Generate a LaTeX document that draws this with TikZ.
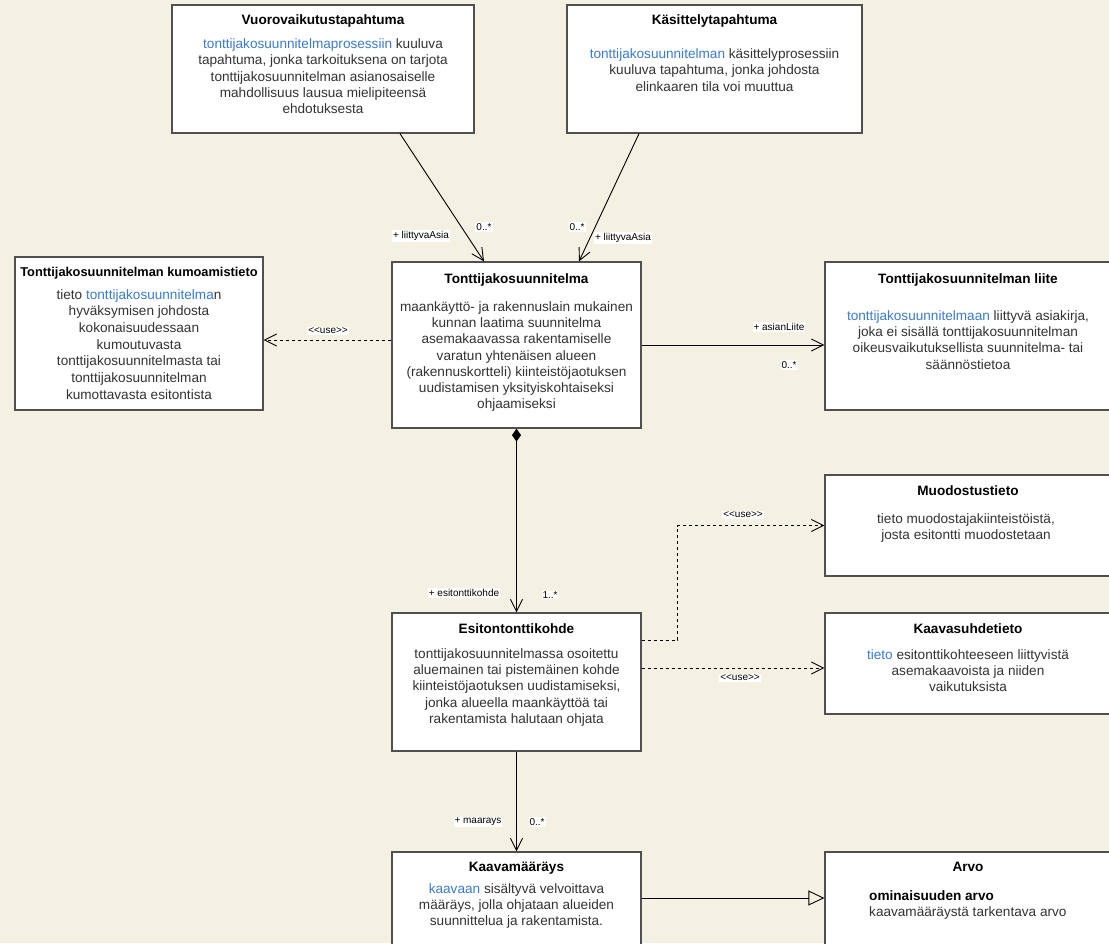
\documentclass[tikz,border=0pt]{standalone}
\usepackage{fontspec}
\setmainfont{Liberation Sans}[Ligatures=TeXOff]
\usetikzlibrary{arrows.meta,calc}
\definecolor{bg}{HTML}{F4F0E2}
\definecolor{bord}{HTML}{505050}
\definecolor{txt}{HTML}{333333}
\definecolor{lnk}{HTML}{3B7BCD}
\newcommand\lk[1]{\textcolor{lnk}{#1}}
\tikzset{
  box/.style={draw=bord, line width=1.3pt, fill=white, inner sep=0pt},
  ttl/.style={font=\bfseries\fontsize{13.6}{16.3}\selectfont, text=black, inner sep=0pt, anchor=center, text height=9.8pt, text depth=2.9pt},
  body/.style={font=\fontsize{13.6}{16.3}\selectfont, text=txt, align=center, inner sep=0pt, anchor=north, execute at begin node=\strut},
  lbl/.style={font=\fontsize{10}{12}\selectfont, fill=white, inner sep=1pt, text=black},
  assoc/.style={draw=black, line width=0.9pt, -{Straight Barb[length=12pt,width=12pt]}},
  usedep/.style={assoc, dashed},
  compo/.style={draw=black, line width=0.9pt, {Diamond[length=13pt,width=9pt]}-{Straight Barb[length=12pt,width=12pt]}},
  gen/.style={draw=black, line width=0.9pt, -{Triangle[open,length=16pt,width=15pt]}},
}
\begin{document}
\begin{tikzpicture}[x=1pt,y=-1pt]
\useasboundingbox (0,0) rectangle (1109,943);
\clip (0,0) rectangle (1109,943);
\fill[bg] (0,0) rectangle (1109,943);

% boxes
\node[box, minimum width=302pt, minimum height=128pt] (vv) at (323,69) {};
\node[box, minimum width=295pt, minimum height=128pt] (kt) at (714.5,69) {};
\node[box, minimum width=248pt, minimum height=153pt] (ku) at (139,333.5) {};
\node[box, minimum width=249pt, minimum height=166pt] (tj) at (516.5,345) {};
\node[box, minimum width=287pt, minimum height=148pt] (li) at (968.5,336) {};
\node[box, minimum width=287pt, minimum height=101pt] (mu) at (968.5,525.5) {};
\node[box, minimum width=249pt, minimum height=138pt] (es) at (516.5,682) {};
\node[box, minimum width=287pt, minimum height=101pt] (ks) at (968.5,663.5) {};
\node[box, minimum width=249pt, minimum height=108pt] (km) at (516.5,906) {};
\node[box, minimum width=287pt, minimum height=108pt] (ar) at (968.5,906) {};

% texts
\node[ttl] (vvt) at (323,21) {Vuorovaikutustapahtuma};
\node[body] (vvb) at (323,38.6) {\lk{tonttijakosuunnitelmaprosessiin} kuuluva\\ tapahtuma, jonka tarkoituksena on tarjota\\ tonttijakosuunnitelman asianosaiselle\\ mahdollisuus lausua mielipiteensä\\ ehdotuksesta};

\node[ttl] (ktt) at (714.5,21) {Käsittelytapahtuma};
\node[body] (ktb) at (714.5,48.6) {\lk{tonttijakosuunnitelman} käsittelyprosessiin\\ kuuluva tapahtuma, jonka johdosta\\ elinkaaren tila voi muuttua};

\node[ttl, font=\bfseries\fontsize{12.8}{15}\selectfont] (kut) at (139,273) {Tonttijakosuunnitelman kumoamistieto};
\node[body, font=\fontsize{13.6}{16.7}\selectfont] (kub) at (139,289.1) {tieto \lk{tonttijakosuunnitelma}n\\ hyväksymisen johdosta\\ kokonaisuudessaan\\ kumoutuvasta\\ tonttijakosuunnitelmasta tai\\ tonttijakosuunnitelman\\ kumottavasta esitontista};

\node[ttl] (tjt) at (516.5,280) {Tonttijakosuunnitelma};
\node[body] (tjb) at (516.5,301.1) {maankäyttö- ja rakennuslain mukainen\\ kunnan laatima suunnitelma\\ asemakaavassa rakentamiselle\\ varatun yhtenäisen alueen\\ (rakennuskortteli) kiinteistöjaotuksen\\ uudistamisen yksityiskohtaiseksi\\ ohjaamiseksi};

\node[ttl] (lit) at (968,280) {Tonttijakosuunnitelman liite};
\node[body] (lib) at (968,310.1) {\lk{tonttijakosuunnitelmaan} liittyvä asiakirja,\\ joka ei sisällä tonttijakosuunnitelman\\ oikeusvaikutuksellista suunnitelma- tai\\ säännöstietoa};

\node[ttl] (mut) at (968,492) {Muodostustieto};
\node[body] (mub) at (966,513.1) {tieto muodostajakiinteistöistä,\\ josta esitontti muodostetaan};

\node[ttl] (kst) at (968,630) {Kaavasuhdetieto};
\node[body] (ksb) at (968,649.1) {\lk{tieto} esitonttikohteeseen liittyvistä\\ asemakaavoista ja niiden\\ vaikutuksista};

\node[ttl] (est) at (516.5,630) {Esitontonttikohde};
\node[body] (esb) at (516.5,648.1) {tonttijakosuunnitelmassa osoitettu\\ aluemainen tai pistemäinen kohde\\ kiinteistöjaotuksen uudistamiseksi,\\ jonka alueella maankäyttöä tai\\ rakentamista halutaan ohjata};

\node[ttl] (kmt) at (516.5,868) {Kaavamääräys};
\node[body] (kmb) at (516.5,883.1) {\lk{kaavaan} sisältyvä velvoittava\\ määräys, jolla ohjataan alueiden\\ suunnittelua ja rakentamista.};

\node[ttl] (art) at (968,868) {Arvo};
\node[body, anchor=north west, align=left] (arb) at (869,890.1) {\textcolor{black}{\bfseries ominaisuuden arvo}\\ kaavamääräystä tarkentava arvo};

% connectors
\draw[assoc] ([xshift=77pt]vv.south) -- ([xshift=-32.5pt]tj.north);
\draw[assoc] ([xshift=-75.5pt]kt.south) -- ([xshift=62.5pt]tj.north);
\coordinate (u1) at ([yshift=5pt]tj.west);
\draw[usedep] (u1) -- (u1 -| ku.east);
\draw[assoc] (tj.east) -- (tj.east -| li.west);
\draw[compo] (tj.south) -- (es.north);
\coordinate (u2) at ([yshift=42pt]es.east);
\draw[usedep] (u2) -- ++(36,0) |- (mu.west);
\coordinate (u3) at ([yshift=14pt]es.east);
\draw[usedep] (u3) -- (u3 -| ks.west);
\draw[assoc] (es.south) -- (km.north);
\coordinate (g1) at ([yshift=8pt]km.east);
\draw[gen] (g1) -- (g1 -| ar.west);

% labels
\node[lbl] (l1) at (421,236) {+ liittyvaAsia};
\node[lbl] (l2) at (484,227) {0..*};
\node[lbl] (l3) at (577,227) {0..*};
\node[lbl] (l4) at (623,238) {+ liittyvaAsia};
\node[lbl] (l5) at (328,331) {<<use>>};
\node[lbl] (l6) at (779,327) {+ asianLiite};
\node[lbl] (l7) at (789,365) {0..*};
\node[lbl] (l8) at (464,593) {+ esitonttikohde};
\node[lbl] (l9) at (550,595) {1..*};
\node[lbl] (l10) at (743,515) {<<use>>};
\node[lbl] (l11) at (740,678) {<<use>>};
\node[lbl] (l12) at (478,822) {+ maarays};
\node[lbl] (l13) at (537,822) {0..*};
\end{tikzpicture}
\end{document}
